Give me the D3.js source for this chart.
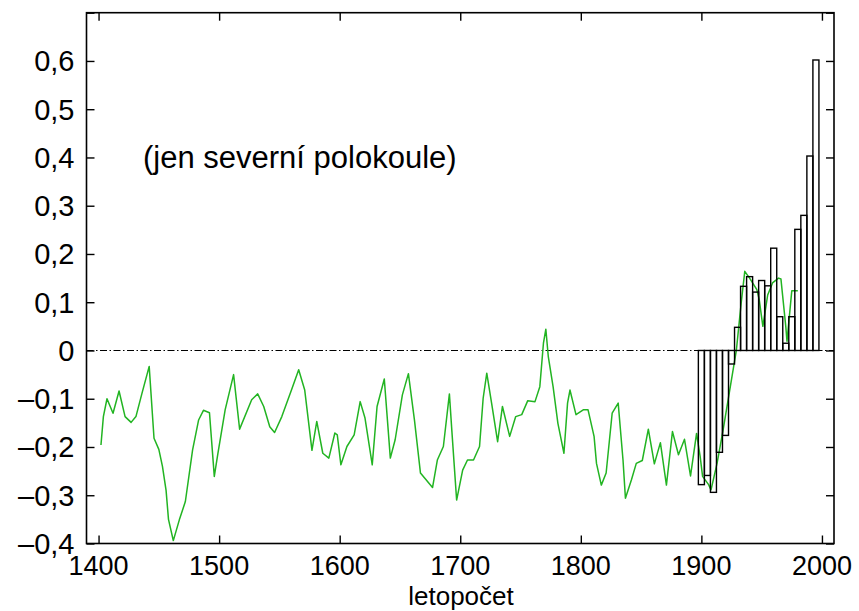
<!DOCTYPE html>
<html>
<head>
<meta charset="utf-8">
<script src="https://cdn.jsdelivr.net/npm/d3@7/dist/d3.min.js"></script>
<style>
  html, body { margin: 0; padding: 0; background: #fff; }
  svg { display: block; }
  text { font-family: "Liberation Sans", Arial, Helvetica, sans-serif; fill: #000; }
</style>
</head>
<body>
<svg id="chart" width="859" height="611"></svg>
<script>
// ---- data ----
const lineYears = [1402,1404,1407,1412,1417,1422,1427,1431,1436,1442,1446,1450,1453,1456,1458,1462,1467,1472,1478,1483,1487,1492,1496,1499,1505,1512,1517,1527,1532,1537,1542,1546,1552,1560,1566,1571,1577,1581,1586,1591,1596,1598,1601,1606,1612,1617,1621,1627,1631,1637,1642,1646,1652,1657,1662,1667,1677,1681,1686,1691,1693,1697,1702,1706,1711,1716,1719,1722,1726,1731,1735,1741,1746,1751,1756,1762,1766,1769,1771,1773,1777,1781,1786,1789,1791,1796,1802,1806,1811,1813,1817,1821,1826,1831,1835,1837,1842,1846,1851,1856,1861,1866,1871,1876,1881,1886,1891,1896,1899,1901,1906,1908,1913,1918,1924,1929,1933,1936,1940,1946,1948,1951,1955,1959,1964,1966,1970,1971,1975,1980];
const lineValues = [-0.196,-0.137,-0.100,-0.130,-0.084,-0.137,-0.149,-0.137,-0.089,-0.033,-0.182,-0.205,-0.240,-0.290,-0.350,-0.394,-0.351,-0.313,-0.206,-0.144,-0.124,-0.129,-0.261,-0.213,-0.123,-0.050,-0.163,-0.102,-0.090,-0.116,-0.158,-0.170,-0.137,-0.082,-0.040,-0.082,-0.207,-0.147,-0.213,-0.223,-0.171,-0.175,-0.237,-0.199,-0.175,-0.106,-0.140,-0.237,-0.116,-0.059,-0.223,-0.185,-0.092,-0.048,-0.144,-0.254,-0.284,-0.227,-0.199,-0.090,-0.165,-0.310,-0.248,-0.227,-0.227,-0.199,-0.099,-0.047,-0.109,-0.189,-0.116,-0.178,-0.137,-0.133,-0.104,-0.106,-0.075,0.015,0.044,-0.012,-0.075,-0.151,-0.213,-0.109,-0.082,-0.133,-0.123,-0.123,-0.178,-0.234,-0.279,-0.254,-0.130,-0.109,-0.227,-0.306,-0.268,-0.234,-0.228,-0.163,-0.235,-0.191,-0.279,-0.168,-0.216,-0.184,-0.260,-0.172,-0.220,-0.261,-0.278,-0.289,-0.234,-0.165,-0.075,0.000,0.098,0.164,0.150,0.126,0.105,0.050,0.115,0.140,0.150,0.148,0.050,0.019,0.124,0.124];

const barYears = [1900,1905,1910,1915,1920,1925,1930,1935,1940,1945,1950,1955,1960,1965,1970,1975,1980,1985,1990,1995];
const barValues = [-0.278,-0.259,-0.294,-0.211,-0.176,-0.028,0.048,0.133,0.153,0.121,0.145,0.134,0.212,0.070,0.015,0.070,0.251,0.280,0.403,0.602];

const xTicks = [1400,1500,1600,1700,1800,1900,2000];
const yTicks = [-0.4,-0.3,-0.2,-0.1,0,0.1,0.2,0.3,0.4,0.5,0.6];
const yTicksAll = [-0.4,-0.3,-0.2,-0.1,0,0.1,0.2,0.3,0.4,0.5,0.6,0.7];
const noteText = "(jen severní polokoule)";
const xTitle = "letopočet";

// ---- layout ----
const L = 86.5, R = 834, T = 12.7, B = 543.5;
const svg = d3.select("#chart");
svg.append("rect").attr("width", 859).attr("height", 611).attr("fill", "#fff");

const x = d3.scaleLinear().domain([1390, 2010]).range([L, R]);
const y = d3.scaleLinear().domain([-0.4, 0.7]).range([B, T]);

const fmt = v => v === 0 ? "0" : (v < 0 ? "\u2013" : "") + d3.format(".1f")(Math.abs(v)).replace(".", ",");

// zero line (dash-dot)
svg.append("line")
  .attr("x1", L).attr("x2", R).attr("y1", y(0)).attr("y2", y(0))
  .attr("stroke", "#000").attr("stroke-width", 1.2)
  .attr("stroke-dasharray", "7,2.5,1.5,2.5");

// green line
const line = d3.line().x((d, i) => x(lineYears[i])).y(d => y(d));
svg.append("path")
  .datum(lineValues)
  .attr("d", line)
  .attr("fill", "none")
  .attr("stroke", "#22b422")
  .attr("stroke-width", 1.5)
  .attr("stroke-linejoin", "round");

// bars (outlined)
svg.append("g").selectAll("rect")
  .data(barValues)
  .join("rect")
  .attr("x", (d, i) => x(barYears[i] - 2.5))
  .attr("width", (d, i) => x(barYears[i] + 2.5) - x(barYears[i] - 2.5))
  .attr("y", d => y(Math.max(0, d)))
  .attr("height", d => Math.abs(y(d) - y(0)))
  .attr("fill", "none")
  .attr("stroke", "#000")
  .attr("stroke-width", 1.4);

// axes with inward ticks
const tl = 8;
const axB = d3.axisBottom(x).tickValues(xTicks).tickSize(-tl).tickFormat("");
const axT = d3.axisTop(x).tickValues(xTicks).tickSize(-tl).tickFormat("");
const axL = d3.axisLeft(y).tickValues(yTicksAll).tickSize(-tl).tickFormat("");
const axR = d3.axisRight(y).tickValues(yTicksAll).tickSize(-tl).tickFormat("");
[[axB, `translate(0,${B})`], [axT, `translate(0,${T})`], [axL, `translate(${L},0)`], [axR, `translate(${R},0)`]].forEach(([a, t]) => {
  const g = svg.append("g").attr("transform", t).call(a);
  g.select(".domain").remove();
  g.selectAll(".tick line").attr("stroke", "#000").attr("stroke-width", 1.4);
});

// frame
svg.append("rect")
  .attr("x", L).attr("y", T).attr("width", R - L).attr("height", B - T)
  .attr("fill", "none").attr("stroke", "#000").attr("stroke-width", 1.6);

// y labels
svg.append("g").selectAll("text")
  .data(yTicks)
  .join("text")
  .attr("x", L - 12)
  .attr("y", d => y(d))
  .attr("dy", "0.36em")
  .attr("text-anchor", "end")
  .attr("font-size", 29)
  .text(fmt);

// x labels
svg.append("g").selectAll("text")
  .data(xTicks)
  .join("text")
  .attr("x", d => x(d))
  .attr("y", 575)
  .attr("text-anchor", "middle")
  .attr("font-size", 27)
  .text(d => d);

// x title
svg.append("text")
  .attr("x", 461).attr("y", 605)
  .attr("text-anchor", "middle")
  .attr("font-size", 26)
  .text(xTitle);

// note
svg.append("text")
  .attr("x", 143).attr("y", 168)
  .attr("font-size", 31)
  .text(noteText);
</script>
</body>
</html>
